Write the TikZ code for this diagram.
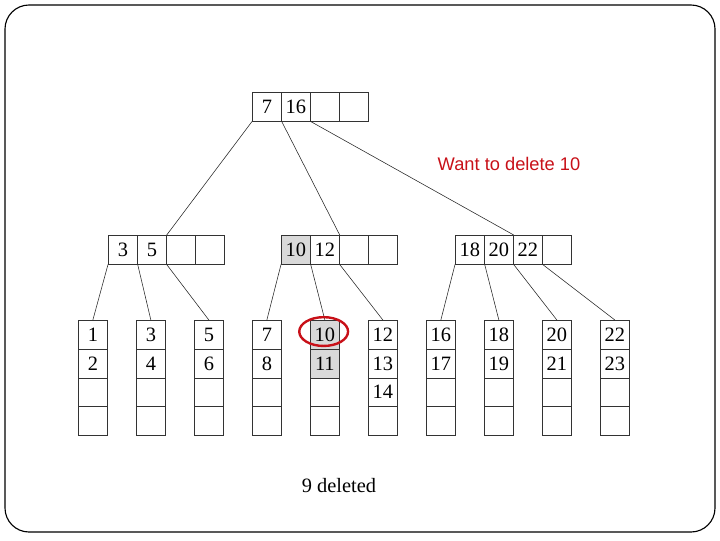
\documentclass[tikz,border=0pt]{standalone}
\usepackage{xcolor}
\usepackage{fontspec}
\setmainfont{Liberation Serif}
\newfontfamily\notefont{Liberation Sans}
\usepackage{tikz}
\definecolor{alert}{RGB}{200,16,24}

\begin{document}
\begin{tikzpicture}[
    x=0.025cm, y=-0.025cm,
    every node/.style={font=\fontsize{14.5}{16}\selectfont},
    cell/.style={draw=black!80, line width=0.5pt, minimum width=0.725cm,
                 minimum height=0.72cm, inner sep=0pt, anchor=north west},
    hit/.style={cell, fill=black!15},
    ptr/.style={line width=0.4pt, black!85},
    ring/.style={draw=alert, line width=1.7pt},
    note/.style={font=\notefont\fontsize{13}{15}\selectfont, text=alert},
  ]
    \useasboundingbox (0,0) rectangle (720,540);
    \draw[line width=0.8pt, rounded corners=0.6cm] (5,5) rectangle (715,532);

    % Root
    \foreach \t [count=\k] in {7,16,{},{}}
      \node[cell] (r\k) at ({252+29*(\k-1)}, 92) {\t};

    % Level 2
    \foreach \t [count=\k] in {3,5,{},{}}
      \node[cell] (a\k) at ({108+29*(\k-1)}, 235) {\t};
    \node[hit] (b1) at (281, 235) {10};
    \foreach \t [count=\k from 2] in {12,{},{}}
      \node[cell] (b\k) at ({281+29*(\k-1)}, 235) {\t};
    \foreach \t [count=\k] in {18,20,22,{}}
      \node[cell] (c\k) at ({455+29*(\k-1)}, 235) {\t};

    % Leaves
    \foreach \i/\ta/\tb/\tc/\fc in {1/1/2/{}/white, 2/3/4/{}/white,
        3/5/6/{}/white, 4/7/8/{}/white, 5/10/11/{}/black!15,
        6/12/13/14/white, 7/16/17/{}/white, 8/18/19/{}/white,
        9/20/21/{}/white, 10/22/23/{}/white}{
      \pgfmathsetmacro\lx{78+58*(\i-1)}
      \node[cell, fill=\fc] (l\i-1) at (\lx, 320) {\ta};
      \node[cell, fill=\fc] (l\i-2) at (\lx, 348.75) {\tb};
      \node[cell] (l\i-3) at (\lx, 377.5) {\tc};
      \node[cell] (l\i-4) at (\lx, 406.25) {};
    }

    % Pointers
    \draw[ptr] (r1.south west) -- (a2.north east);
    \draw[ptr] (r1.south east) -- (b2.north east);
    \draw[ptr] (r2.south east) -- (c2.north east);
    \foreach \p/\l in {a1.south west/1, a1.south east/2, a2.south east/3,
        b1.south west/4, b1.south east/5, b2.south east/6,
        c1.south west/7, c1.south east/8, c2.south east/9, c3.south east/10}
      \draw[ptr] (\p) -- (l\l-1.north);

    % Key to delete
    \draw[ring] ([xshift=-0.03cm, yshift=0.08cm]l5-1.center)
         ellipse [x radius=0.61cm, y radius=0.36cm];
    \node[note] (want) at (509, 164) {Want to delete 10};

    \node[font=\fontsize{14.5}{16}\selectfont] (gone) at (339, 486) {9 deleted};
  \end{tikzpicture}
\end{document}
